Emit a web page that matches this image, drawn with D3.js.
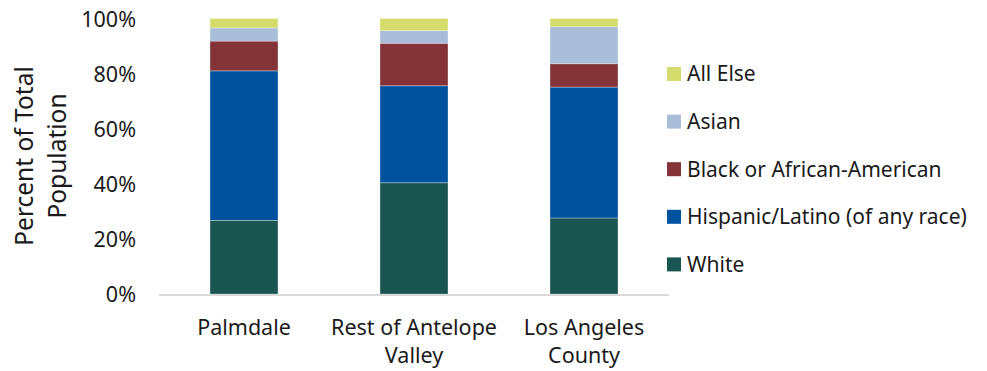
<!DOCTYPE html>
<html><head><meta charset="utf-8">
<script src="https://cdn.jsdelivr.net/npm/d3@7"></script>
<style>body{margin:0;background:#fff;}svg text{font-family:"Source Sans Pro","Noto Sans",sans-serif;fill:#1a1a1a;}</style>
</head><body><svg id="c" width="987" height="371"></svg>
<script>
const categories = [["Palmdale"], ["Rest of Antelope", "Valley"], ["Los Angeles", "County"]];
const seriesNames = ["White", "Hispanic/Latino (of any race)", "Black or African-American", "Asian", "All Else"];
const white    = [26.7, 40.4, 27.6];
const hispanic = [54.3, 35.2, 47.5];
const black    = [10.8, 15.4, 8.5];
const asian    = [4.8, 4.6, 13.4];
const allElse  = [3.4, 4.4, 3.0];
const yTicks = [0, 20, 40, 60, 80, 100];
const colors = ["#1b5552", "#00529f", "#843438", "#a9bcd8", "#d4dc6c"];

const svg = d3.select("#c");
const m = {left: 159, right: 669, top: 18.5, bottom: 294};
const values = [white, hispanic, black, asian, allElse];
const rows = categories.map((c, i) => {
  const r = {key: i};
  seriesNames.forEach((s, j) => r[s] = values[j][i]);
  return r;
});
const stack = d3.stack().keys(seriesNames)(rows);
const x = d3.scaleBand().domain(categories.map((c, i) => i)).range([m.left, m.right]).paddingInner(0.6).paddingOuter(0.3);
const y = d3.scaleLinear().domain([0, 100]).range([m.bottom, m.top]);

svg.append("g").selectAll("g").data(stack).join("g")
  .attr("fill", (d, i) => colors[i])
  .selectAll("rect").data(d => d).join("rect")
  .attr("x", d => x(d.data.key))
  .attr("width", x.bandwidth())
  .attr("y", d => y(d[1]))
  .attr("height", d => y(d[0]) - y(d[1]))
  .attr("stroke", "rgba(255,255,255,0.3)").attr("stroke-width", 1);

svg.append("line").attr("x1", m.left).attr("x2", m.right).attr("y1", m.bottom + 1).attr("y2", m.bottom + 1)
  .attr("stroke", "#d9d9d9").attr("stroke-width", 2);

const yAxis = d3.axisLeft(y).tickValues(yTicks).tickFormat(d => d + "%").tickSize(0).tickPadding(0);
const ga = svg.append("g").attr("transform", "translate(136,0)").call(yAxis);
ga.select(".domain").remove();
ga.selectAll("text").attr("font-size", 21.5).attr("font-family", null).attr("dy", "0.35em");

const gx = svg.append("g");
categories.forEach((lines, i) => {
  const t = gx.append("text").attr("text-anchor", "middle").attr("font-size", 21.5)
    .attr("x", x(i) + x.bandwidth() / 2).attr("y", 335);
  lines.forEach((l, k) => t.append("tspan").attr("x", x(i) + x.bandwidth() / 2).attr("dy", k ? 28 : 0).text(l));
});

const yt = svg.append("text").attr("transform", "translate(41,156) rotate(-90)").attr("text-anchor", "middle").attr("font-size", 24.5);
yt.append("tspan").attr("x", 0).attr("dy", -8).text("Percent of Total");
yt.append("tspan").attr("x", 0).attr("dy", 33).text("Population");

const legendOrder = [4, 3, 2, 1, 0];
const lg = svg.append("g");
legendOrder.forEach((si, k) => {
  const cy = 74 + k * 47.6;
  lg.append("rect").attr("x", 667).attr("y", cy - 7).attr("width", 14).attr("height", 14).attr("fill", colors[si]);
  lg.append("text").attr("x", 687).attr("y", cy).attr("dy", "0.35em").attr("font-size", 21).text(seriesNames[si]);
});
</script></body></html>
